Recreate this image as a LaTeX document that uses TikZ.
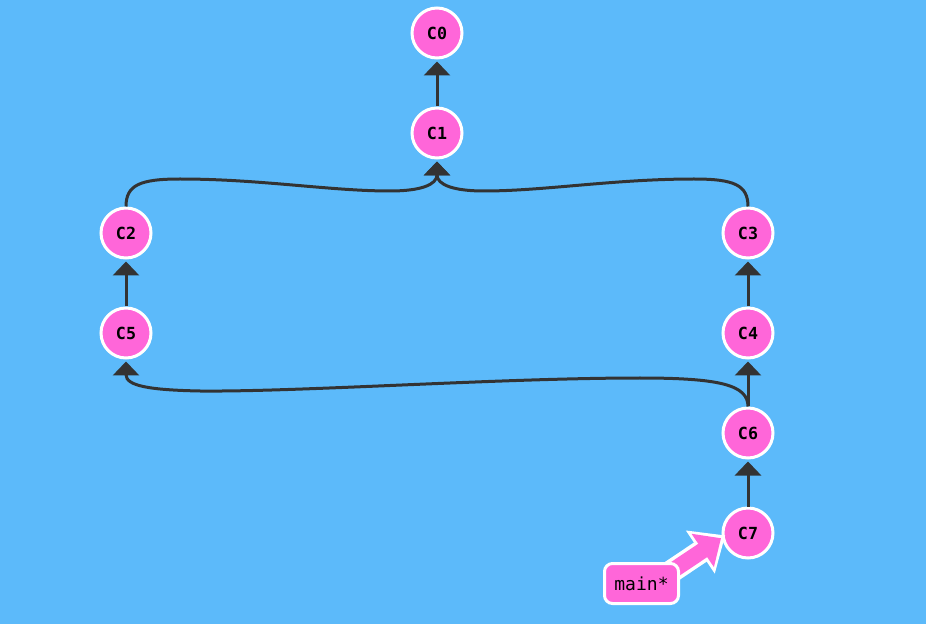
\documentclass[tikz,border=0pt]{standalone}
\usepackage{fontspec}
\usetikzlibrary{arrows.meta,positioning,backgrounds,calc}
\newfontfamily\monofont{DejaVu Sans Mono}
\definecolor{SkyBlue}   {HTML}{5CBAFA}
\definecolor{CommitPink}{HTML}{FF66D9}
\definecolor{EdgeGray}  {HTML}{333333}
\pgfdeclarelayer{front}
\pgfsetlayers{background,main,front}
\tikzset{
  commit/.style={circle,fill=CommitPink,draw=white,line width=2.25pt,
                 minimum size=37.5pt,inner sep=0pt,
                 font=\monofont\bfseries\fontsize{12.5}{14}\selectfont},
  branchlbl/.style={rectangle,rounded corners=6pt,fill=CommitPink,draw=white,
                    line width=2.25pt,minimum width=55.5pt,minimum height=30pt,
                    inner sep=2pt,font=\monofont\fontsize{13.5}{15}\selectfont},
  parent/.style={-{Triangle[width=19.5pt,length=10.5pt]},line width=2.25pt,
                 draw=EdgeGray,shorten >=1.5pt},
}

\begin{document}
\begin{tikzpicture}[x=0.75pt,y=-0.75pt]

  \useasboundingbox (0,0) rectangle (926,624);

  % commits
  \node[commit] (C0) at (437,33)  {C0};
  \node[commit] (C1) at (437,133) {C1};
  \node[commit] (C2) at (126,233) {C2};
  \node[commit] (C3) at (748,233) {C3};
  \node[commit] (C5) at (126,333) {C5};
  \node[commit] (C4) at (748,333) {C4};
  \node[commit] (C6) at (748,433) {C6};
  \node[commit] (C7) at (748,533) {C7};

  % branch label
  \begin{pgfonlayer}{front}
    \node[branchlbl] (main) at (641.5,583.5) {main*};
  \end{pgfonlayer}

  % parent links
  \draw[parent] (C1) -- (C0);
  \draw[parent] (C5) -- (C2);
  \draw[parent] (C4) -- (C3);
  \draw[parent] (C7) -- (C6);
  \draw[parent] (C6.north) -- (C4.south);
  \draw[parent] (C2.north) .. controls (126,185) and (140,179) .. (180,179)
                           .. controls (260,179) and (330,191) .. (390,191)
                           .. controls (420,191) and (437,185) .. (C1.south);
  \draw[parent] (C3.north) .. controls (748,185) and (734,179) .. (694,179)
                           .. controls (614,179) and (544,191) .. (484,191)
                           .. controls (454,191) and (437,185) .. (C1.south);
  \draw[parent] (C6.north) .. controls (748,385) and (720,378) .. (640,378)
                           .. controls (500,378) and (300,392) .. (200,391)
                           .. controls (150,390) and (126,386) .. (C5.south);

  % branch pointer
  \draw[white,line width=17.25pt,-{Triangle[width=37.5pt,length=22.5pt]},
        shorten >=-3pt]
    ($(main.center)+(0,8)$) -- (C7.190);
  \draw[CommitPink,line width=12pt,-{Triangle[width=29pt,length=16.5pt]},
        shorten >=0.8pt]
    ($(main.center)+(0,8)$) -- (C7.190);

  \begin{scope}[on background layer]
    \fill[SkyBlue] (0,0) rectangle (926,624);
  \end{scope}

\end{tikzpicture}
\end{document}
